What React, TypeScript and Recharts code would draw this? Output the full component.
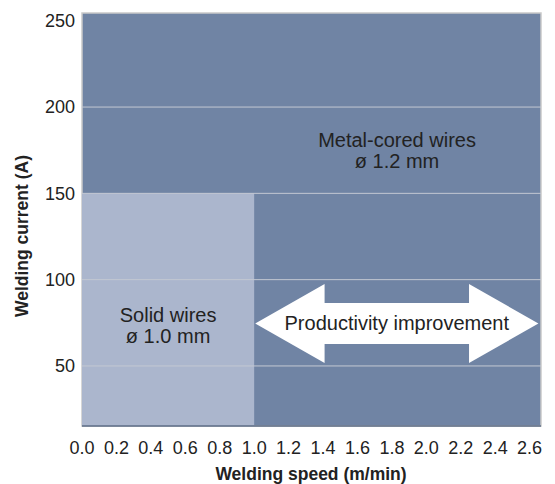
import React from "react";
import {
  ComposedChart,
  XAxis,
  YAxis,
  ReferenceArea,
  ReferenceLine,
  ReferenceDot,
} from "recharts";

// axis ticks
const speedTicks = [0, 0.2, 0.4, 0.6, 0.8, 1.0, 1.2, 1.4, 1.6, 1.8, 2.0, 2.2, 2.4, 2.6];
const currentTicks = [50, 100, 150, 200, 250];
const gridCurrents = [50, 100, 150, 200];

// regions (speed m/min, current A)
const coredSpeed = [0, 2.666];
const coredCurrent = [15.2, 254.5];
const solidSpeed = [0, 1.0];
const solidCurrent = [15.2, 150];

// productivity arrow extent
const arrowSpeed = [1.006, 2.651];
const arrowCurrent = [51.7, 97.5];

// label anchors
const coredLabelAt = { speed: 1.83, current: 174.5 };
const solidLabelAt = { speed: 0.5, current: 73 };

const FONT = "'Liberation Sans', Arial, Helvetica, sans-serif";
const DARK = "#7084a4";
const LIGHT = "#abb6cd";

function TwoLineLabel({ viewBox, lines }: any) {
  const cx = viewBox.x + (viewBox.width || 0) / 2;
  const cy = viewBox.y + (viewBox.height || 0) / 2;
  return (
    <text x={cx} y={cy} textAnchor="middle" fontFamily={FONT} fontSize={20} fill="#222">
      <tspan x={cx} dy={-4}>{lines[0]}</tspan>
      <tspan x={cx} dy={21}>{lines[1]}</tspan>
    </text>
  );
}

function DoubleArrow(props: any) {
  const { x, y, width, height } = props;
  const head = width * 0.245;
  const inset = height * 0.24;
  const midY = y + height / 2;
  const pts = [
    [x, midY],
    [x + head, y],
    [x + head, y + inset],
    [x + width - head, y + inset],
    [x + width - head, y],
    [x + width, midY],
    [x + width - head, y + height],
    [x + width - head, y + height - inset],
    [x + head, y + height - inset],
    [x + head, y + height],
  ]
    .map((p) => p.join(","))
    .join(" ");
  return (
    <g>
      <polygon points={pts} fill="#fff" />
      <text
        x={x + width / 2}
        y={midY + 7}
        textAnchor="middle"
        fontFamily={FONT}
        fontSize={20}
        fill="#222"
      >
        Productivity improvement
      </text>
    </g>
  );
}

export default function App() {
  return (
    <div style={{ position: "absolute", left: 0, top: 0, background: "#fff" }}>
      <ComposedChart
        width={555}
        height={484}
        data={[]}
        margin={{ top: 13, right: 14, left: 0, bottom: 0 }}
      >
        <XAxis
          type="number"
          dataKey="speed"
          domain={coredSpeed}
          ticks={speedTicks}
          allowDataOverflow
          interval={0}
          height={58}
          tickLine={false}
          tickMargin={9}
          axisLine={{ stroke: "#5d6c86", strokeWidth: 1.5 }}
          tickFormatter={(v: number) => v.toFixed(1)}
          tick={{ fontSize: 18, fill: "#222", fontFamily: FONT }}
          label={(p: any) => (
            <text
              x={311}
              y={480}
              textAnchor="middle"
              fontFamily={FONT}
              fontSize={17.5}
              fontWeight="bold"
              fill="#222"
            >
              Welding speed (m/min)
            </text>
          )}
        />
        <YAxis
          type="number"
          dataKey="current"
          domain={coredCurrent}
          ticks={currentTicks}
          allowDataOverflow
          width={82}
          tickLine={false}
          axisLine={false}
          tickMargin={1}
          tick={{ fontSize: 18, fill: "#222", fontFamily: FONT }}
          label={(p: any) => (
            <text
              x={28}
              y={236}
              transform="rotate(-90 28 236)"
              textAnchor="middle"
              fontFamily={FONT}
              fontSize={17.5}
              fontWeight="bold"
              fill="#222"
            >
              Welding current (A)
            </text>
          )}
        />
        <ReferenceArea
          x1={coredSpeed[0]}
          x2={coredSpeed[1]}
          y1={coredCurrent[0]}
          y2={coredCurrent[1]}
          fill={DARK}
          fillOpacity={1}
          stroke="#c9c9c9"
          strokeWidth={1.5}
        />
        <ReferenceArea
          x1={solidSpeed[0]}
          x2={solidSpeed[1]}
          y1={solidCurrent[0]}
          y2={solidCurrent[1]}
          fill={LIGHT}
          fillOpacity={1}
        />
        {gridCurrents.map((c) => (
          <ReferenceLine key={c} y={c} stroke="#c3c8d2" strokeWidth={1} />
        ))}
        <ReferenceArea
          x1={arrowSpeed[0]}
          x2={arrowSpeed[1]}
          y1={arrowCurrent[0]}
          y2={arrowCurrent[1]}
          shape={(p: any) => <DoubleArrow {...p} />}
        />
        <ReferenceDot
          x={coredLabelAt.speed}
          y={coredLabelAt.current}
          r={0}
          fill="none"
          stroke="none"
          label={(p: any) => (
            <TwoLineLabel {...p} lines={["Metal-cored wires", "ø 1.2 mm"]} />
          )}
        />
        <ReferenceDot
          x={solidLabelAt.speed}
          y={solidLabelAt.current}
          r={0}
          fill="none"
          stroke="none"
          label={(p: any) => (
            <TwoLineLabel {...p} lines={["Solid wires", "ø 1.0 mm"]} />
          )}
        />
      </ComposedChart>
    </div>
  );
}
